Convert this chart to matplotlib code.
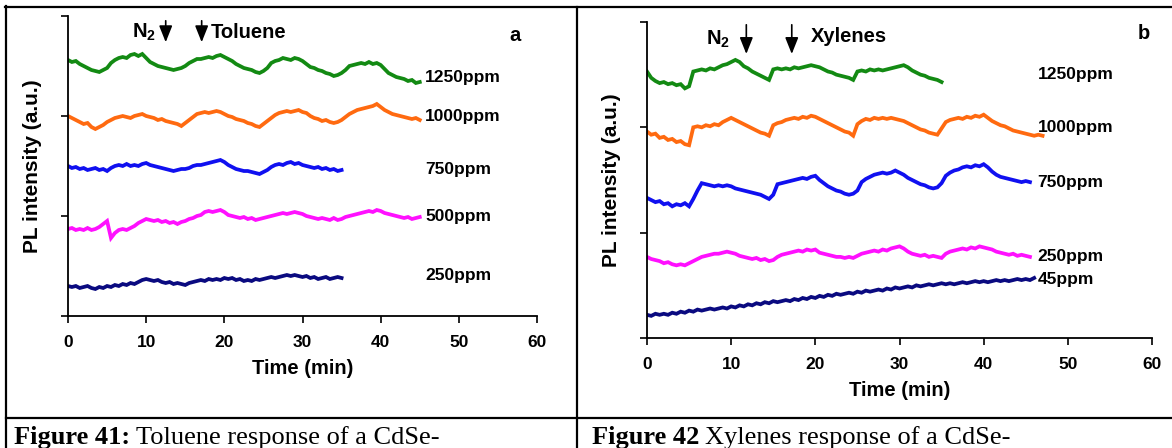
import numpy as np
import matplotlib
matplotlib.use("Agg")
import matplotlib.pyplot as plt
from matplotlib.lines import Line2D

STEP = 0.5  # sampling interval of the traces (min)

# ---------------- Panel a: Toluene ----------------
a_1250 = [2.56, 2.54, 2.55, 2.52, 2.50, 2.48, 2.46, 2.45, 2.44, 2.46, 2.48, 2.53, 2.56, 2.58, 2.59, 2.58,
          2.61, 2.62, 2.60, 2.62, 2.58, 2.54, 2.52, 2.50, 2.49, 2.48, 2.47, 2.46, 2.47, 2.48, 2.50, 2.53,
          2.55, 2.57, 2.57, 2.58, 2.59, 2.58, 2.60, 2.61, 2.59, 2.57, 2.55, 2.52, 2.50, 2.48, 2.47, 2.46,
          2.44, 2.43, 2.45, 2.48, 2.53, 2.55, 2.56, 2.58, 2.57, 2.56, 2.58, 2.57, 2.55, 2.52, 2.49, 2.48,
          2.46, 2.45, 2.43, 2.42, 2.40, 2.41, 2.43, 2.46, 2.50, 2.51, 2.52, 2.53, 2.52, 2.54, 2.52, 2.53,
          2.51, 2.47, 2.43, 2.41, 2.39, 2.38, 2.37, 2.35, 2.36, 2.33, 2.34]
a_1000 = [2.00, 1.98, 1.96, 1.94, 1.92, 1.93, 1.89, 1.87, 1.89, 1.91, 1.94, 1.96, 1.98, 1.99, 2.00, 1.99,
          1.98, 2.00, 2.01, 2.02, 2.00, 1.99, 1.98, 1.96, 1.97, 1.95, 1.94, 1.93, 1.92, 1.90, 1.93, 1.96,
          1.99, 2.02, 2.03, 2.04, 2.03, 2.04, 2.05, 2.04, 2.02, 2.00, 1.99, 1.97, 1.96, 1.95, 1.93, 1.92,
          1.90, 1.89, 1.92, 1.95, 1.98, 2.01, 2.03, 2.04, 2.05, 2.04, 2.05, 2.06, 2.04, 2.03, 2.00, 1.98,
          1.97, 1.95, 1.96, 1.94, 1.93, 1.94, 1.96, 1.99, 2.02, 2.04, 2.06, 2.07, 2.08, 2.09, 2.10, 2.12,
          2.09, 2.06, 2.04, 2.02, 2.01, 2.00, 1.99, 1.98, 1.97, 1.98, 1.96]
a_750 = [1.50, 1.48, 1.49, 1.47, 1.48, 1.46, 1.47, 1.48, 1.46, 1.47, 1.45, 1.48, 1.50, 1.51, 1.50, 1.52,
         1.50, 1.51, 1.50, 1.52, 1.53, 1.51, 1.50, 1.49, 1.48, 1.47, 1.46, 1.45, 1.46, 1.47, 1.47, 1.48,
         1.50, 1.51, 1.51, 1.52, 1.53, 1.54, 1.55, 1.56, 1.54, 1.51, 1.49, 1.47, 1.46, 1.45, 1.45, 1.44,
         1.43, 1.42, 1.44, 1.46, 1.49, 1.51, 1.52, 1.51, 1.53, 1.54, 1.52, 1.53, 1.51, 1.50, 1.49, 1.48,
         1.49, 1.47, 1.48, 1.46, 1.47, 1.45, 1.46]
a_500 = [0.87, 0.88, 0.86, 0.87, 0.86, 0.88, 0.86, 0.87, 0.89, 0.92, 0.95, 0.78, 0.83, 0.86, 0.87, 0.86,
         0.88, 0.90, 0.93, 0.95, 0.97, 0.96, 0.95, 0.96, 0.94, 0.95, 0.93, 0.94, 0.92, 0.94, 0.95, 0.97,
         0.98, 1.00, 1.01, 1.04, 1.05, 1.04, 1.05, 1.06, 1.04, 1.01, 1.00, 0.99, 0.98, 0.99, 0.97, 0.98,
         0.96, 0.97, 0.98, 0.99, 1.00, 1.01, 1.02, 1.03, 1.02, 1.03, 1.04, 1.03, 1.02, 1.00, 0.99, 0.98,
         0.97, 0.98, 0.97, 0.96, 0.98, 0.96, 0.97, 0.99, 1.00, 1.01, 1.02, 1.03, 1.04, 1.05, 1.04, 1.06,
         1.05, 1.03, 1.02, 1.01, 1.00, 0.99, 0.98, 0.99, 0.97, 0.98, 0.99]
a_250 = [0.30, 0.29, 0.30, 0.28, 0.29, 0.30, 0.28, 0.27, 0.29, 0.28, 0.30, 0.29, 0.31, 0.30, 0.32, 0.31,
         0.33, 0.32, 0.34, 0.36, 0.37, 0.36, 0.35, 0.36, 0.34, 0.33, 0.34, 0.32, 0.33, 0.32, 0.31, 0.33,
         0.34, 0.35, 0.36, 0.35, 0.37, 0.36, 0.37, 0.36, 0.38, 0.37, 0.38, 0.36, 0.37, 0.35, 0.36, 0.35,
         0.37, 0.36, 0.37, 0.38, 0.39, 0.38, 0.39, 0.40, 0.41, 0.40, 0.41, 0.40, 0.39, 0.40, 0.38, 0.39,
         0.37, 0.38, 0.39, 0.37, 0.38, 0.39, 0.38]

# ---------------- Panel b: Xylenes ----------------
b_1250 = [2.53, 2.47, 2.44, 2.42, 2.43, 2.41, 2.42, 2.40, 2.41, 2.37, 2.39, 2.53, 2.54, 2.55, 2.54, 2.56,
          2.55, 2.57, 2.59, 2.60, 2.62, 2.64, 2.62, 2.58, 2.56, 2.53, 2.51, 2.49, 2.47, 2.45, 2.55, 2.56,
          2.55, 2.56, 2.55, 2.57, 2.56, 2.57, 2.58, 2.59, 2.58, 2.57, 2.55, 2.53, 2.52, 2.50, 2.49, 2.48,
          2.47, 2.45, 2.53, 2.54, 2.53, 2.55, 2.54, 2.55, 2.54, 2.55, 2.56, 2.57, 2.58, 2.59, 2.57, 2.54,
          2.52, 2.50, 2.49, 2.47, 2.46, 2.45, 2.43]
b_1000 = [1.96, 1.93, 1.94, 1.90, 1.91, 1.88, 1.89, 1.86, 1.87, 1.84, 1.83, 2.00, 2.01, 2.00, 2.02, 2.01,
          2.03, 2.02, 2.05, 2.07, 2.09, 2.07, 2.05, 2.03, 2.01, 1.99, 1.97, 1.95, 1.94, 1.92, 2.02, 2.04,
          2.05, 2.07, 2.08, 2.09, 2.08, 2.10, 2.09, 2.11, 2.10, 2.08, 2.06, 2.04, 2.02, 2.00, 1.98, 1.96,
          1.95, 1.92, 2.03, 2.06, 2.08, 2.07, 2.09, 2.08, 2.09, 2.08, 2.09, 2.08, 2.07, 2.06, 2.04, 2.02,
          2.00, 1.98, 1.97, 1.95, 1.94, 1.93, 1.99, 2.05, 2.07, 2.08, 2.09, 2.08, 2.10, 2.09, 2.11, 2.10,
          2.12, 2.09, 2.06, 2.04, 2.02, 2.01, 1.99, 1.97, 1.96, 1.95, 1.94, 1.93, 1.92, 1.93, 1.92]
b_750 = [1.33, 1.31, 1.29, 1.30, 1.27, 1.28, 1.25, 1.27, 1.26, 1.28, 1.25, 1.32, 1.40, 1.47, 1.46, 1.45,
         1.44, 1.45, 1.44, 1.45, 1.44, 1.42, 1.41, 1.40, 1.39, 1.38, 1.37, 1.36, 1.34, 1.32, 1.36, 1.46,
         1.47, 1.48, 1.49, 1.50, 1.51, 1.52, 1.51, 1.53, 1.54, 1.50, 1.47, 1.44, 1.42, 1.40, 1.39, 1.37,
         1.36, 1.37, 1.40, 1.48, 1.51, 1.53, 1.55, 1.56, 1.57, 1.56, 1.57, 1.59, 1.57, 1.55, 1.52, 1.50,
         1.48, 1.46, 1.45, 1.43, 1.42, 1.43, 1.47, 1.54, 1.57, 1.59, 1.60, 1.62, 1.63, 1.62, 1.64, 1.63,
         1.65, 1.62, 1.58, 1.55, 1.53, 1.52, 1.51, 1.50, 1.49, 1.48, 1.49, 1.48]
b_250 = [0.77, 0.75, 0.74, 0.73, 0.71, 0.72, 0.70, 0.69, 0.70, 0.69, 0.71, 0.73, 0.75, 0.77, 0.78, 0.79,
         0.80, 0.80, 0.81, 0.82, 0.81, 0.80, 0.78, 0.77, 0.76, 0.75, 0.76, 0.74, 0.75, 0.73, 0.74, 0.77,
         0.79, 0.80, 0.81, 0.82, 0.83, 0.82, 0.84, 0.83, 0.84, 0.81, 0.80, 0.79, 0.78, 0.77, 0.77, 0.76,
         0.77, 0.76, 0.78, 0.80, 0.81, 0.82, 0.83, 0.82, 0.84, 0.83, 0.85, 0.86, 0.87, 0.85, 0.82, 0.80,
         0.79, 0.78, 0.79, 0.77, 0.78, 0.77, 0.76, 0.80, 0.82, 0.83, 0.84, 0.85, 0.84, 0.86, 0.85, 0.87,
         0.86, 0.85, 0.84, 0.82, 0.81, 0.80, 0.79, 0.80, 0.78, 0.79, 0.78, 0.77]
b_45 = [0.22, 0.21, 0.23, 0.22, 0.23, 0.22, 0.24, 0.23, 0.25, 0.24, 0.26, 0.25, 0.27, 0.26, 0.27, 0.28,
        0.27, 0.28, 0.29, 0.28, 0.30, 0.29, 0.31, 0.30, 0.32, 0.31, 0.33, 0.32, 0.34, 0.33, 0.35, 0.34,
        0.35, 0.36, 0.35, 0.37, 0.36, 0.38, 0.37, 0.39, 0.38, 0.40, 0.39, 0.41, 0.40, 0.42, 0.41, 0.42,
        0.43, 0.42, 0.44, 0.43, 0.45, 0.44, 0.45, 0.46, 0.45, 0.47, 0.46, 0.48, 0.47, 0.48, 0.49, 0.48,
        0.50, 0.49, 0.50, 0.51, 0.50, 0.51, 0.52, 0.51, 0.52, 0.51, 0.52, 0.53, 0.52, 0.53, 0.54, 0.53,
        0.54, 0.53, 0.54, 0.55, 0.54, 0.55, 0.54, 0.55, 0.56, 0.55, 0.56, 0.55, 0.57]

a_series = [(a_1250, "#138a13", "1250ppm", 2.39),
            (a_1000, "#ff6a10", "1000ppm", 2.00),
            (a_750, "#1010f0", "750ppm", 1.47),
            (a_500, "#ff10ff", "500ppm", 1.00),
            (a_250, "#0a0a80", "250ppm", 0.41)]
b_series = [(b_1250, "#138a13", "1250ppm", 2.50),
            (b_1000, "#ff6a10", "1000ppm", 2.00),
            (b_750, "#1010f0", "750ppm", 1.48),
            (b_250, "#ff10ff", "250ppm", 0.77),
            (b_45, "#0a0a80", "45ppm", 0.56)]
x_ticks = [0, 10, 20, 30, 40, 50, 60]

plt.rcParams['font.family'] = ['Liberation Sans', 'DejaVu Sans']
plt.rcParams['mathtext.fontset'] = 'custom'
plt.rcParams['mathtext.rm'] = 'Liberation Sans:bold'
plt.rcParams['mathtext.bf'] = 'Liberation Sans:bold'
W, H = 1172, 448
fig = plt.figure(figsize=(W / 100, H / 100), dpi=100)

def px_rect(x0, x1, ytop, ybot):
    return [x0 / W, 1 - ybot / H, (x1 - x0) / W, (ybot - ytop) / H]

FS = 12.5
FS_AX = 14.5
FS_Y = 15

def setup(ax):
    ax.set_xlim(0, 60)
    ax.set_ylim(0, 3)
    for s in ['top', 'right']:
        ax.spines[s].set_visible(False)
    for s in ['left', 'bottom']:
        ax.spines[s].set_linewidth(1.3)
    ax.set_xticks(x_ticks)
    ax.set_xticklabels([str(v) for v in x_ticks], fontsize=FS, fontweight='bold')
    ax.set_yticks([0, 1, 2, 3])
    ax.set_yticklabels([])
    ax.tick_params(axis='both', direction='out', length=5, width=1.2, pad=9)
    ax.patch.set_alpha(0)

def draw(ax, series, label_x):
    for vals, col, lab, ly in series:
        t = STEP * np.arange(len(vals))
        ax.plot(t, vals, color=col, lw=2.7, solid_joinstyle='miter')
        ax.text(label_x, ly, lab, fontsize=FS, fontweight='bold', va='center', ha='left')

arrow = dict(arrowstyle='-|>,head_width=0.4,head_length=1.0', color='black', lw=1.2)

# Panel a
axa = fig.add_axes(px_rect(68, 537, 16, 316))
setup(axa)
draw(axa, a_series, 45.7)
axa.set_xlabel("Time (min)", fontsize=FS_AX, fontweight='bold', labelpad=6)
axa.set_ylabel("PL intensity (a.u.)", fontsize=FS_Y, fontweight='bold', labelpad=5)
axa.annotate("", xy=(12.5, 2.71), xytext=(12.5, 2.98), arrowprops=arrow)
axa.annotate("", xy=(17.1, 2.71), xytext=(17.1, 2.98), arrowprops=arrow)
axa.text(8.2, 2.84, r"$\mathbf{N}_{\mathbf{2}}$", fontsize=FS_AX, va='center', ha='left')
axa.text(18.3, 2.84, "Toluene", fontsize=FS_AX, fontweight='bold', va='center', ha='left')
axa.text(57.2, 2.81, "a", fontsize=FS_AX, fontweight='bold', va='center', ha='center')

# Panel b
axb = fig.add_axes(px_rect(647, 1152, 22, 338))
setup(axb)
draw(axb, b_series, 46.4)
axb.set_xlabel("Time (min)", fontsize=FS_AX, fontweight='bold', labelpad=6)
axb.set_ylabel("PL intensity (a.u.)", fontsize=FS_Y, fontweight='bold', labelpad=5)
axb.annotate("", xy=(11.8, 2.67), xytext=(11.8, 3.0), arrowprops=arrow)
axb.annotate("", xy=(17.2, 2.67), xytext=(17.2, 3.0), arrowprops=arrow)
axb.text(7.0, 2.84, r"$\mathbf{N}_{\mathbf{2}}$", fontsize=FS_AX, va='center', ha='left')
axb.text(19.5, 2.86, "Xylenes", fontsize=FS_AX, fontweight='bold', va='center', ha='left')
axb.text(59.0, 2.89, "b", fontsize=FS_AX, fontweight='bold', va='center', ha='center')

# Table-like frame
def fline(x0, y0, x1, y1, lw=1.6):
    fig.add_artist(Line2D([x0 / W, x1 / W], [1 - y0 / H, 1 - y1 / H], color='black', lw=lw))

fline(5, 7, W, 7)
fline(6, 6, 6, H)
fline(577, 7, 577, H)
fline(6, 418, W, 418)

# Captions
cap_font = ['Liberation Serif', 'DejaVu Serif']
t1 = fig.text(14 / W, 1 - 444 / H, "Figure 41:", fontsize=19, fontweight='bold', family=cap_font,
              va='baseline', ha='left')
t2 = fig.text(592 / W, 1 - 444 / H, "Figure 42", fontsize=19, fontweight='bold', family=cap_font,
              va='baseline', ha='left')
fig.canvas.draw()
bb = t1.get_window_extent()
bb2 = t2.get_window_extent()
fig.text(bb.x1 / W + 6 / W, 1 - 444 / H, "Toluene response of a CdSe-", fontsize=19, family=cap_font,
         va='baseline', ha='left')
fig.text(bb2.x1 / W + 6 / W, 1 - 444 / H, "Xylenes response of a CdSe-", fontsize=19, family=cap_font,
         va='baseline', ha='left')

fig.savefig("out.png", dpi=100)
